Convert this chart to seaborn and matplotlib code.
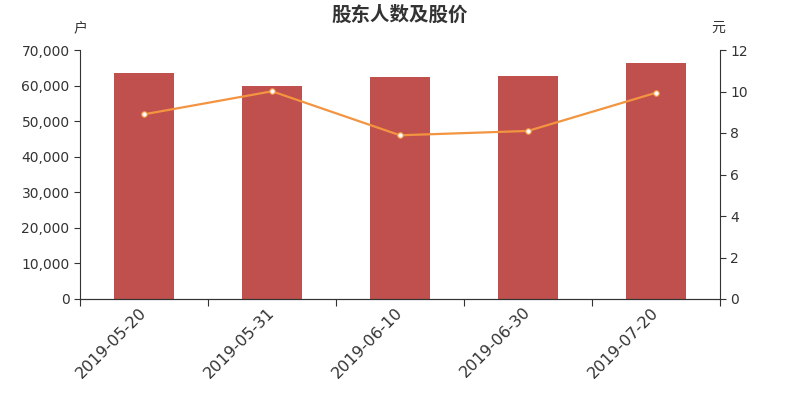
import numpy as np
import matplotlib
matplotlib.use('Agg')
import matplotlib.pyplot as plt
import matplotlib.ticker as mticker
import matplotlib.transforms as mtransforms
import seaborn as sns

# data
dates = ['2019-05-20', '2019-05-31', '2019-06-10', '2019-06-30', '2019-07-20']
holders = [63450, 59950, 62450, 62650, 66300]
prices = [8.90, 10.01, 7.89, 8.10, 9.94]

sns.set_style('white')
plt.rcParams['font.family'] = ['DejaVu Sans', 'Noto Sans CJK SC']

text_col = '#333333'
fig = plt.figure(figsize=(8, 4), dpi=100)
ax = fig.add_axes([0.1, 0.2525, 0.8, 0.6225])

sns.barplot(x=dates, y=holders, ax=ax, color='#C0504D', width=0.47,
            saturation=1, linewidth=0)
ax.set_xlim(-0.5, len(dates) - 0.5)
ax.set_ylim(0, 70000)
ax.yaxis.set_major_locator(mticker.MultipleLocator(10000))
ax.yaxis.set_major_formatter(mticker.FuncFormatter(lambda v, p: f'{int(v):,}'))

ax2 = ax.twinx()
sns.lineplot(x=dates, y=prices, ax=ax2, color='#F39440', linewidth=1.6,
             marker='o', markersize=4, markerfacecolor='white',
             markeredgecolor='#F39440', markeredgewidth=0.8)
ax2.set_ylim(0, 12)
ax2.yaxis.set_major_locator(mticker.MultipleLocator(2))
ax.set_xlim(-0.5, len(dates) - 0.5)

for a in (ax, ax2):
    for s in a.spines.values():
        s.set_color(text_col)
        s.set_linewidth(0.8)
    a.spines['top'].set_visible(False)
    a.tick_params(axis='y', colors=text_col, labelsize=10, length=4, width=0.8)
ax.tick_params(axis='y', left=True)
ax2.tick_params(axis='y', right=True)

ax2.spines['left'].set_visible(False)
ax.spines['right'].set_visible(False)

# x ticks: labels at centers, tick marks at band edges
ax.set_xticks(range(len(dates)))
ax.set_xticklabels(dates, rotation=45, ha='right', rotation_mode='anchor',
                   fontsize=11.5, color=text_col)
ax.tick_params(axis='x', which='major', length=0, pad=4)
shift = mtransforms.ScaledTranslation(-5 / 100, 0, fig.dpi_scale_trans)
for lbl in ax.get_xticklabels():
    lbl.set_transform(lbl.get_transform() + shift)
ax.set_xticks(np.arange(-0.5, len(dates)), minor=True)
ax.tick_params(axis='x', which='minor', bottom=True, length=5, width=0.8,
               color=text_col)

ax.text(0, 1.06, '户', transform=ax.transAxes, ha='center', va='bottom',
        fontsize=10, color=text_col, family=['Noto Sans CJK SC'])
ax.text(0.997, 1.06, '元', transform=ax.transAxes, ha='center', va='bottom',
        fontsize=10, color=text_col, family=['Noto Sans CJK SC'])
fig.suptitle('股东人数及股价', x=0.5, y=0.985, fontsize=14, fontweight='bold',
             color=text_col, family=['Noto Sans CJK SC'])

fig.savefig('out.png', dpi=100)
